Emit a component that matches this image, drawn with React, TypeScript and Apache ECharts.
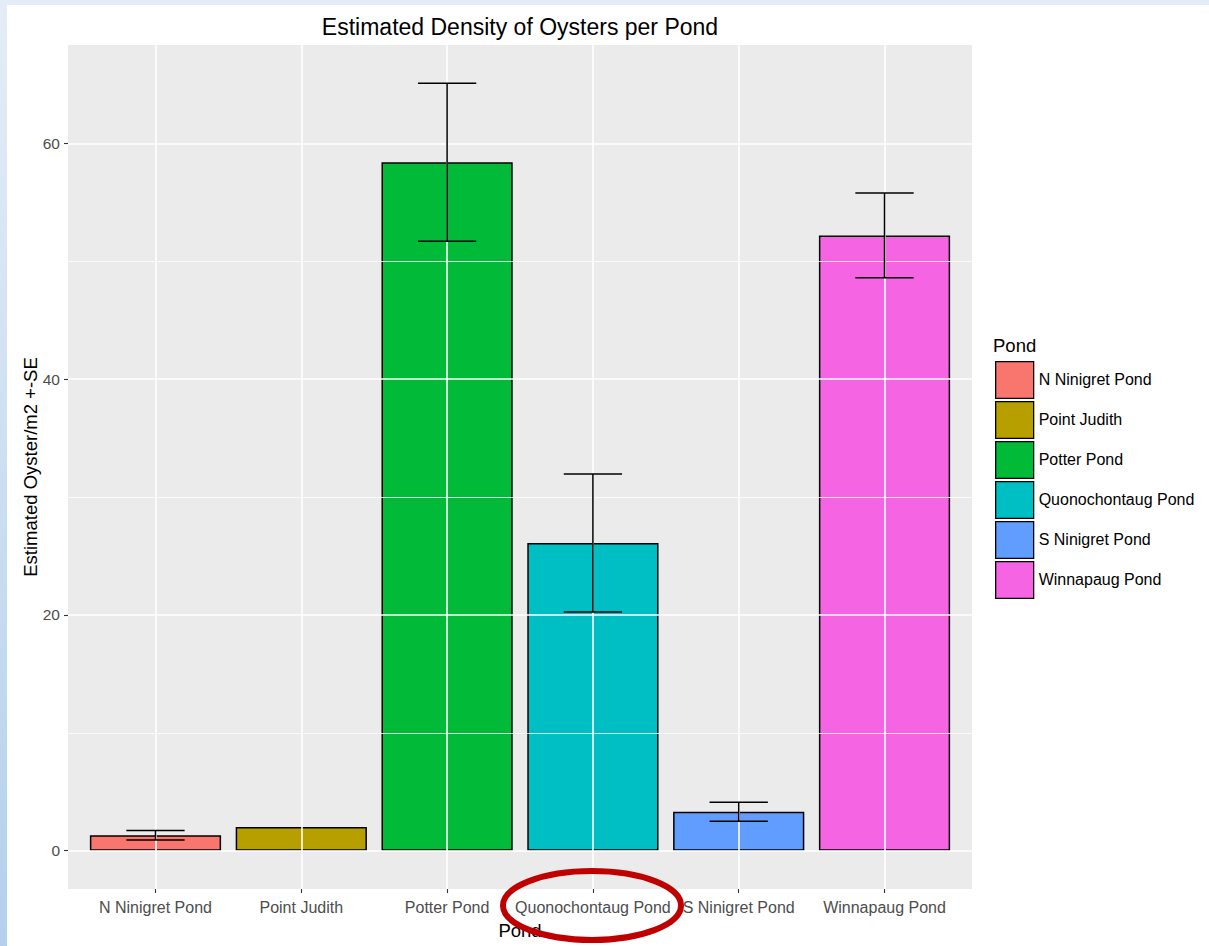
import React, { useEffect, useRef } from "react";
import * as echarts from "echarts";

// ---- data ----
const ponds = [
  "N Ninigret Pond",
  "Point Judith",
  "Potter Pond",
  "Quonochontaug Pond",
  "S Ninigret Pond",
  "Winnapaug Pond",
];
const density = [1.3, 2.0, 58.4, 26.1, 3.3, 52.2];
const stdErr: (number | null)[] = [0.4, null, 6.7, 5.85, 0.8, 3.6];
const yMajorBreaks = [0, 20, 40, 60];
const yMinorBreaks = [10, 30, 50];
const pondColors = ["#F8766D", "#B79F00", "#00BA38", "#00BFC4", "#619CFF", "#F564E3"];

const FONT = "'Liberation Sans', Arial, Helvetica, sans-serif";

export default function App() {
  const ref = useRef<HTMLDivElement>(null);

  useEffect(() => {
    if (!ref.current) return;
    const chart = echarts.init(ref.current, undefined, { renderer: "svg" });

    // ggplot-like panel: discrete axis expanded by 0.6 units, continuous by 5%
    const panel = { left: 68, top: 45, width: 904, height: 844 };
    const n = ponds.length;
    const expand = 0.6;
    const positions = ponds.map((_, i) => i);

    const tops = density.map((d, i) => d + (stdErr[i] ?? 0));
    const yTop = Math.max(...tops);
    const yMin = -0.05 * yTop;
    const yMax = yTop * 1.05;

    const errData = ponds
      .map((_, i) =>
        stdErr[i] == null ? null : [i, density[i] - (stdErr[i] as number), density[i] + (stdErr[i] as number)]
      )
      .filter((d) => d !== null);

    const barSeries = ponds.map((p, i) => ({
      name: p,
      type: "bar",
      barWidth: "90%",
      barGap: "-100%",
      data: [[i, density[i]]],
      itemStyle: { color: pondColors[i], borderColor: "#000", borderWidth: 1.5 },
      z: 3,
    }));

    const option: any = {
      animation: false,
      backgroundColor: "#ffffff",
      textStyle: { fontFamily: FONT },
      title: {
        text: "Estimated Density of Oysters per Pond",
        left: panel.left + panel.width / 2,
        top: 15,
        padding: 0,
        textAlign: "center",
        textStyle: { fontSize: 23, fontWeight: "normal", color: "#000", fontFamily: FONT },
      },
      legend: {
        data: ponds,
        orient: "vertical",
        left: 995,
        top: 361,
        padding: 0,
        itemWidth: 38,
        itemHeight: 36.7,
        itemGap: 2,
        icon: "rect",
        selectedMode: false,
        itemStyle: { borderWidth: 1.3 },
        textStyle: { fontSize: 16, color: "#000", fontFamily: FONT },
      },
      grid: {
        left: panel.left,
        top: panel.top,
        width: panel.width,
        height: panel.height,
        show: true,
        backgroundColor: "#ebebeb",
        borderWidth: 0,
        containLabel: false,
        outerBoundsMode: "none",
      },
      xAxis: {
        type: "value",
        min: -expand,
        max: n - 1 + expand,
        axisLine: { show: false, onZero: false },
        axisTick: { show: true, customValues: positions, length: 4, lineStyle: { color: "#333", width: 1.1 } },
        axisLabel: {
          customValues: positions,
          formatter: (v: number) => ponds[Math.round(v)] ?? "",
          color: "#4d4d4d",
          fontSize: 16,
          margin: 10,
          fontFamily: FONT,
        },
        splitLine: { show: false },
        name: "Pond",
        nameLocation: "middle",
        nameGap: 32,
        nameMoveOverlap: false,
        nameTextStyle: { fontSize: 18.5, color: "#000", fontFamily: FONT },
      },
      yAxis: {
        type: "value",
        min: yMin,
        max: yMax,
        axisLine: { show: false, onZero: false },
        axisTick: { show: true, customValues: yMajorBreaks, length: 4, lineStyle: { color: "#333", width: 1.1 } },
        axisLabel: { customValues: yMajorBreaks, color: "#4d4d4d", fontSize: 15.5, margin: 8, fontFamily: FONT },
        splitLine: { show: false },
        name: "Estimated Oyster/m2 +-SE",
        nameLocation: "middle",
        nameRotate: 90,
        nameGap: 28,
        nameMoveOverlap: false,
        nameTextStyle: { fontSize: 18.5, color: "#000", fontFamily: FONT },
      },
      series: [
        {
          name: "grid lines",
          type: "line",
          data: [],
          z: 1,
          silent: true,
          markLine: {
            silent: true,
            symbol: "none",
            label: { show: false },
            emphasis: { disabled: true },
            data: [
              ...yMinorBreaks.map((v) => ({ yAxis: v, lineStyle: { color: "#ffffff", width: 0.8, type: "solid" } })),
              ...yMajorBreaks.map((v) => ({ yAxis: v, lineStyle: { color: "#ffffff", width: 1.6, type: "solid" } })),
              ...positions.map((v) => ({ xAxis: v, lineStyle: { color: "#ffffff", width: 1.6, type: "solid" } })),
            ],
          },
        },
        ...barSeries,
        {
          name: "SE",
          type: "custom",
          data: errData,
          encode: { x: 0, y: [1, 2] },
          z: 10,
          silent: true,
          renderItem: (params: any, api: any) => {
            const x = api.value(0);
            const lo = api.coord([x, api.value(1)]);
            const hi = api.coord([x, api.value(2)]);
            const half = (api.size([1, 0])[0] * 0.4) / 2;
            const style = { stroke: "#000", lineWidth: 1.5 };
            return {
              type: "group",
              children: [
                { type: "line", shape: { x1: lo[0], y1: hi[1], x2: lo[0], y2: lo[1] }, style },
                { type: "line", shape: { x1: lo[0] - half, y1: hi[1], x2: lo[0] + half, y2: hi[1] }, style },
                { type: "line", shape: { x1: lo[0] - half, y1: lo[1], x2: lo[0] + half, y2: lo[1] }, style },
              ],
            };
          },
        },
      ],
      graphic: [
        {
          type: "rect",
          z: -1,
          shape: { x: 0, y: 0, width: 1209, height: 5 },
          style: { fill: "#e4edf7" },
        },
        {
          type: "rect",
          z: -1,
          shape: { x: 0, y: 0, width: 7, height: 946 },
          style: {
            fill: new echarts.graphic.LinearGradient(0, 0, 0, 1, [
              { offset: 0, color: "#e4edf7" },
              { offset: 1, color: "#b4d0ec" },
            ]),
          },
        },
        {
          type: "text",
          left: 993,
          top: 336,
          style: { text: "Pond", fontSize: 18.5, fill: "#000", fontFamily: FONT },
        },
        {
          type: "ellipse",
          z: 100,
          shape: { cx: 592, cy: 905.5, rx: 89, ry: 34.5 },
          style: { fill: "none", stroke: "#c00000", lineWidth: 6 },
        },
      ],
    };

    chart.setOption(option);
    return () => chart.dispose();
  }, []);

  return (
    <div
      ref={ref}
      style={{ position: "fixed", left: 0, top: 0, width: 1209, height: 946, background: "#fff" }}
    />
  );
}
